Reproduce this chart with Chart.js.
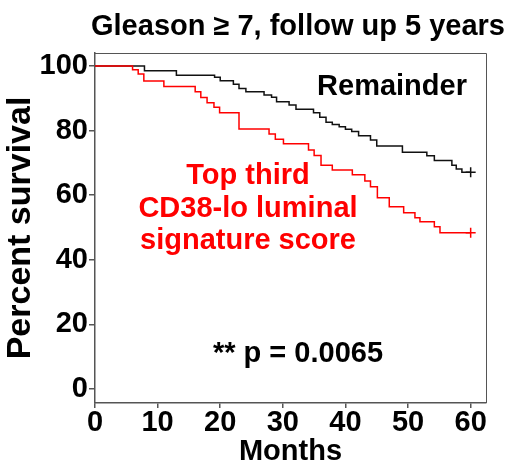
<!DOCTYPE html>
<html>
<head>
<meta charset="utf-8">
<script src="https://cdn.jsdelivr.net/npm/chart.js@4.4.1/dist/chart.umd.min.js"></script>
<style>
  html, body { margin: 0; padding: 0; background: #fff; }
  #wrap { width: 511px; height: 466px; }
</style>
</head>
<body>
<div id="wrap"><canvas id="kmChart" width="511" height="466"></canvas></div>
<script>
// KM curves, months vs percent survival (drop at each time)
const remainderMonths = [0, 7.9, 13.0, 19.1, 20.0, 22.1, 23.0, 24.1, 27.0, 28.2, 29.0, 31.0, 32.1, 34.9, 35.9, 36.9, 37.9, 39.0, 40.0, 41.0, 42.1, 44.0, 45.0, 49.1, 53.0, 54.2, 57.0, 57.7, 58.6, 60];
const remainderSurv = [100, 98.5, 97.1, 96.5, 95.4, 94.3, 93.0, 92.0, 91.0, 90.3, 88.9, 87.9, 86.6, 85.5, 84.1, 82.6, 81.9, 81.2, 80.4, 79.7, 78.4, 77.1, 75.2, 73.3, 72.2, 70.7, 69.3, 68.1, 67.1, 67.1];

const topThirdMonths = [0, 6.0, 6.9, 7.8, 11.0, 16.0, 16.9, 17.9, 19.0, 19.9, 23.0, 27.8, 28.8, 30.1, 34.1, 35.0, 36.1, 37.9, 41.1, 43.1, 44.0, 45.1, 47.0, 49.3, 51.1, 51.9, 54.2, 55.1, 60];
const topThirdSurv = [100, 98.8, 97.5, 95.3, 93.6, 92.0, 90.2, 88.6, 87.2, 85.5, 80.5, 78.9, 77.3, 75.9, 74.0, 72.3, 69.3, 67.8, 66.3, 64.4, 62.6, 59.2, 56.4, 54.6, 53.0, 51.8, 50.2, 48.4, 48.4];

const xTicks = [0, 10, 20, 30, 40, 50, 60];
const yTicks = [0, 20, 40, 60, 80, 100];

const toPoints = (xs, ys) => xs.map((x, i) => ({ x: x, y: ys[i] }));
const censorLast = n => ctx => ctx.dataIndex === n - 1 ? 5 : 0;

const boldFont = size => ({ family: 'Liberation Sans, Arial, sans-serif', size: size, weight: 'bold', lineHeight: 1 });

// frame + free text
const extras = {
  id: 'extras',
  afterDraw(chart) {
    const c = chart.ctx;
    const a = chart.chartArea;
    c.save();
    c.strokeStyle = '#555';
    c.lineWidth = 1;
    c.beginPath();
    c.moveTo(a.left, a.top + 0.5);
    c.lineTo(a.right + 0.5, a.top + 0.5);
    c.lineTo(a.right + 0.5, a.bottom);
    c.stroke();

    c.font = 'bold 29px "Liberation Sans", Arial, sans-serif';
    c.textAlign = 'center';
    c.textBaseline = 'alphabetic';
    c.fillStyle = '#000';
    c.fillText('Gleason \u2265 7, follow up 5 years', 298, 35);
    c.fillText('Remainder', 392, 95);
    c.fillText('** p = 0.0065', 298, 362);
    c.fillStyle = '#ff0000';
    c.fillText('Top third', 248, 184);
    c.fillText('CD38-lo luminal', 248, 217);
    c.fillText('signature score', 248, 249);
    c.restore();
  }
};

new Chart(document.getElementById('kmChart'), {
  type: 'scatter',
  data: {
    datasets: [
      {
        label: 'Top third',
        data: toPoints(topThirdMonths, topThirdSurv),
        showLine: true,
        stepped: 'before',
        borderColor: '#ff0000',
        backgroundColor: '#ff0000',
        borderWidth: 1.5,
        pointStyle: 'cross',
        pointRadius: censorLast(topThirdMonths.length),
        pointBorderWidth: 1.5
      },
      {
        label: 'Remainder',
        data: toPoints(remainderMonths, remainderSurv),
        showLine: true,
        stepped: 'before',
        borderColor: '#111',
        backgroundColor: '#111',
        borderWidth: 1.5,
        pointStyle: 'cross',
        pointRadius: censorLast(remainderMonths.length),
        pointBorderWidth: 1.5
      }
    ]
  },
  options: {
    responsive: false,
    animation: false,
    layout: { padding: { top: 53, right: 25, left: 0, bottom: 0 } },
    plugins: {
      legend: { display: false },
      tooltip: { enabled: false }
    },
    scales: {
      x: {
        type: 'linear',
        min: 0,
        max: 62.45,
        afterBuildTicks: s => { s.ticks = xTicks.map(v => ({ value: v })); },
        afterFit: s => { s.height = 63; },
        border: { color: '#555', width: 1.5 },
        grid: { drawOnChartArea: false, drawTicks: true, tickLength: 5, color: '#555', lineWidth: 1.5 },
        ticks: { color: '#000', font: boldFont(29), padding: 0, maxRotation: 0 },
        title: { display: true, text: 'Months', color: '#000', font: boldFont(29), padding: { top: 0, bottom: 0 } }
      },
      y: {
        type: 'linear',
        min: -4.3,
        max: 104.0,
        afterBuildTicks: s => { s.ticks = yTicks.map(v => ({ value: v })); },
        afterFit: s => { s.width = 95; },
        border: { color: '#555', width: 1.5 },
        grid: { drawOnChartArea: false, drawTicks: true, tickLength: 6, color: '#555', lineWidth: 1.5 },
        ticks: { color: '#000', font: boldFont(29), padding: 1 },
        title: { display: true, text: 'Percent survival', color: '#000', font: boldFont(34), padding: { top: 4, bottom: 0 } }
      }
    }
  },
  plugins: [extras]
});
</script>
</body>
</html>
